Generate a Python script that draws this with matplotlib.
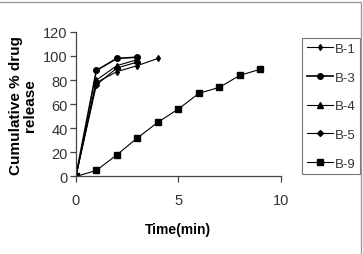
import matplotlib
matplotlib.use("Agg")
import matplotlib.pyplot as plt
from matplotlib.patches import Rectangle

plt.rcParams['font.family'] = ['Liberation Sans', 'DejaVu Sans']

t_short = [0, 1, 2, 3, 4]
t_long = [0, 1, 2, 3, 4, 5, 6, 7, 8, 9]

b1 = [0, 78, 87, 92, 98]
b3 = [0, 88, 98, 99]
b4 = [0, 80, 92, 97]
b5 = [0, 76, 90, 95]
b9 = [0, 5, 18, 32, 45, 56, 69, 74, 84, 89]

fig = plt.figure(figsize=(3.63, 2.55), dpi=100)
ax = fig.add_axes([0.209, 0.304, 0.565, 0.567])

ax.plot(t_short, b1, color='black', lw=0.8, marker='d', ms=3, label='B-1')
ax.plot(t_short[:4], b3, color='black', lw=1.2, marker='o', ms=4, label='B-3')
ax.plot(t_short[:4], b4, color='black', lw=0.8, marker='^', ms=4, label='B-4')
ax.plot(t_short[:4], b5, color='black', lw=0.8, marker='D', ms=3, label='B-5')
ax.plot(t_long, b9, color='black', lw=0.8, marker='s', ms=4, label='B-9')

ax.set_xlim(0, 10)
ax.set_ylim(0, 120)
ax.set_xticks([0, 5, 10])
ax.set_yticks(range(0, 121, 20))
for s in ['top', 'right']:
    ax.spines[s].set_visible(False)
for s in ['left', 'bottom']:
    ax.spines[s].set_color('#444444')
    ax.spines[s].set_linewidth(0.9)
ax.tick_params(direction='out', length=4, width=0.9, color='#444444',
               labelsize=10.5, labelcolor='#333333', pad=2)
ax.tick_params(axis='x', pad=8)

ax.set_xlabel('Time(min)', fontsize=10, fontweight='bold', labelpad=11)
ax.set_ylabel('Cumulative % drug\nrelease', fontsize=11, fontweight='bold',
              labelpad=4, linespacing=1.05)

leg = ax.legend(loc='upper left', bbox_to_anchor=(1.103, 0.958), fontsize=9.5,
                frameon=True, fancybox=False, edgecolor='#555555',
                handlelength=2.0, handletextpad=0.1, labelspacing=1.25,
                borderpad=0.35, borderaxespad=0)
leg.get_frame().set_linewidth(0.8)
for txt in leg.get_texts():
    txt.set_color('#333333')

fig.patches.append(Rectangle((-0.01, -0.01), 361 / 363 + 0.01, 1 - 3 / 255 + 0.01,
                             transform=fig.transFigure, fill=False,
                             edgecolor='#999999', lw=1))

fig.savefig('out.png', dpi=100)
